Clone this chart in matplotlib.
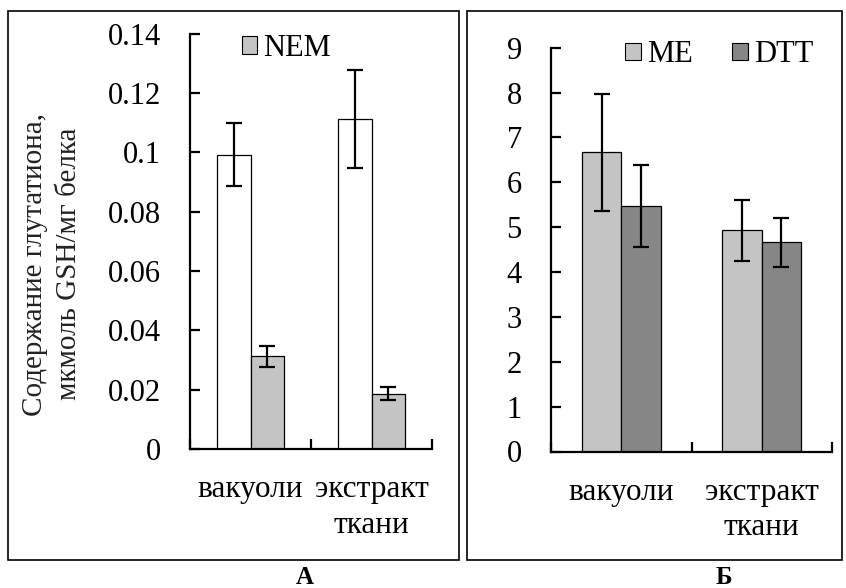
import matplotlib
matplotlib.use("Agg")
import matplotlib.pyplot as plt
from matplotlib.patches import Rectangle, Patch
import numpy as np

plt.rcParams['font.family'] = ['Liberation Serif', 'DejaVu Serif']

# ---- data ----
categories = ["вакуоли", "экстракт\nткани"]

# Panel A
a_control = [0.0993, 0.1113]
a_control_err = [0.0107, 0.0166]
a_nem = [0.0312, 0.0186]
a_nem_err = [0.0035, 0.0022]
a_yticks = [0, 0.02, 0.04, 0.06, 0.08, 0.1, 0.12, 0.14]

# Panel B
b_me = [6.67, 4.93]
b_me_err = [1.30, 0.68]
b_dtt = [5.47, 4.66]
b_dtt_err = [0.91, 0.55]
b_yticks = list(range(0, 10))

ylabel = "Содержание глутатиона,\nмкмоль GSH/мг белка"

W, H = 846, 588
fig = plt.figure(figsize=(W / 100, H / 100), dpi=100)

FS = 22
light = "#c4c4c4"
dark = "#868686"


def px_axes(x0, x1, y_top, y_bot):
    return [x0 / W, (H - y_bot) / H, (x1 - x0) / W, (y_bot - y_top) / H]


def style_axes(ax, yticks, ymax):
    x = np.arange(len(categories))
    ax.set_xlim(-0.5, len(categories) - 0.5)
    ax.set_ylim(0, ymax)
    for s in ['top', 'right']:
        ax.spines[s].set_visible(False)
    for s in ['left', 'bottom']:
        ax.spines[s].set_linewidth(1.6)
    ax.set_yticks(yticks)
    ax.set_yticklabels([f"{v:g}" for v in yticks])
    ax.tick_params(axis='y', direction='in', length=7, width=1.6, pad=21, labelsize=FS)
    ax.set_xticks(np.arange(-0.5, len(categories)), labels=[])
    ax.tick_params(axis='x', which='major', direction='in', length=7, width=1.6)
    ax.set_xticks(x, minor=True)
    ax.set_xticklabels(categories, minor=True)
    ax.tick_params(axis='x', which='minor', length=0, pad=19, labelsize=FS + 0.5)
    for lab in ax.get_xticklabels(minor=True):
        lab.set_linespacing(1.28)
    ax.patch.set_alpha(0)


bw = 0.28
ekw = dict(ecolor='black', elinewidth=1.6, capsize=5.5, capthick=1.6)

# ---- Panel A ----
axA = fig.add_axes(px_axes(190, 432, 33.8, 449))
x = np.arange(len(categories))
axA.bar(x - bw / 2, a_control, bw, color='white', edgecolor='black', linewidth=0.9,
        yerr=a_control_err, error_kw=ekw, zorder=2)
axA.bar(x + bw / 2, a_nem, bw, color=light, edgecolor='black', linewidth=0.9,
        yerr=a_nem_err, error_kw=ekw, zorder=2)
style_axes(axA, a_yticks, 0.14)
axA.legend(handles=[Patch(facecolor=light, edgecolor='black', linewidth=0.8, label='NEM')],
           loc='center left', bbox_to_anchor=(0.215, 0.965), frameon=False,
           borderpad=0, handlelength=0.5, handleheight=0.5, handletextpad=0.2,
           fontsize=FS, borderaxespad=0)

# ---- Panel B ----
axB = fig.add_axes(px_axes(551, 832, 47.7, 451.5))
axB.bar(x - bw / 2, b_me, bw, color=light, edgecolor='black', linewidth=0.9,
        yerr=b_me_err, error_kw=ekw, zorder=2, label='ME')
axB.bar(x + bw / 2, b_dtt, bw, color=dark, edgecolor='black', linewidth=0.9,
        yerr=b_dtt_err, error_kw=ekw, zorder=2, label='DTT')
style_axes(axB, b_yticks, 9)
axB.legend(handles=[Patch(facecolor=light, edgecolor='black', linewidth=0.8, label='ME'),
                    Patch(facecolor=dark, edgecolor='black', linewidth=0.8, label='DTT')],
           loc='center left', bbox_to_anchor=(0.265, 0.982), frameon=False, ncol=2,
           borderpad=0, handlelength=0.5, handleheight=0.5, handletextpad=0.2,
           columnspacing=1.3, fontsize=FS, borderaxespad=0)

# y label
fig.text(52 / W, 1 - 264 / H, ylabel, rotation=90, ha='center', va='center',
         multialignment='center', fontsize=21, color='#222222', linespacing=1.35)

# panel frames
for (x0, x1) in [(8, 459), (467, 842)]:
    fig.add_artist(Rectangle((x0 / W, 1 - 560 / H), (x1 - x0) / W, (560 - 10.5) / H,
                             transform=fig.transFigure, fill=False,
                             edgecolor='black', linewidth=1.2))

fig.text(305 / W, 1 - 577 / H, "А", ha='center', va='center', fontsize=18, fontweight='bold')
fig.text(724 / W, 1 - 577 / H, "Б", ha='center', va='center', fontsize=18, fontweight='bold')

fig.savefig("out.png", dpi=100)
